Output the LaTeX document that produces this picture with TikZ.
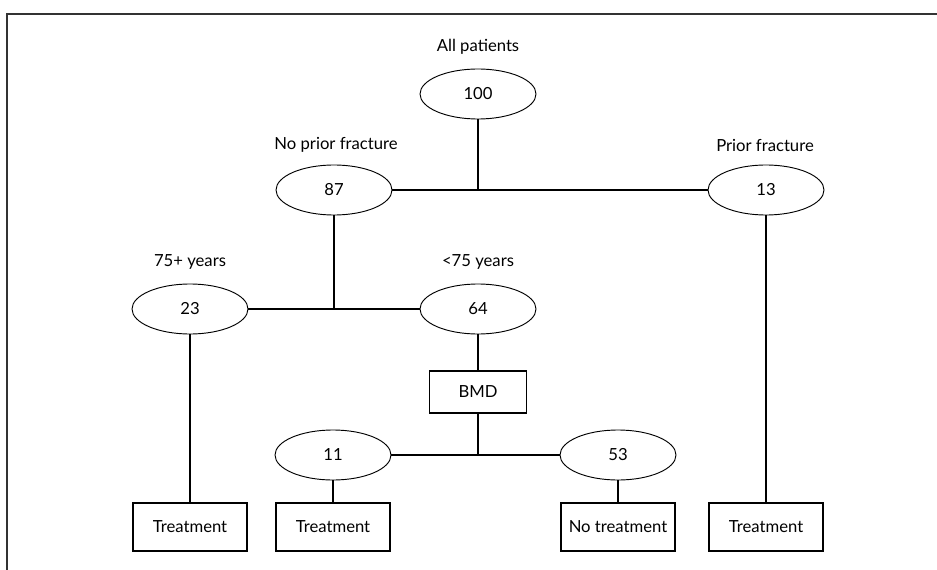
\documentclass[tikz,border=0pt]{standalone}
\usepackage{fontspec}
\setmainfont{Lato}
\usetikzlibrary{shapes.geometric}

\begin{document}
\begin{tikzpicture}[x=0.75pt,y=-0.75pt,
  every node/.style={font=\fontsize{12.5}{14}\selectfont},
  count/.style={ellipse,draw,line width=0.7pt,minimum width=87pt,
                minimum height=37.5pt,inner sep=0pt},
  decision/.style={rectangle,draw,line width=1pt,minimum width=72.75pt,
                   minimum height=31.5pt,inner sep=0pt},
  outcome/.style={rectangle,draw,line width=1pt,minimum width=85.5pt,
                  minimum height=36pt,inner sep=0pt},
  link/.style={line width=1pt},
  border/.style={line width=1.5pt,draw=black!80}]
\useasboundingbox (0,0) rectangle (937,570);
\draw[border] (937,14) -- (7,14) -- (7,570);
\node (lall) at (478,47) {All patients};
\node[count] (n100) at (478,94) {100};
\node (lnp) at (336,145) {No prior fracture};
\node[count] (n87) at (334,190) {87};
\node (lpf) at (765,145) {Prior fracture};
\node[count] (n13) at (766,190) {13};
\node (lold) at (190,262) {75+ years};
\node[count] (n23) at (190,309) {23};
\node (lyoung) at (478,262) {<75 years};
\node[count] (n64) at (478,309) {64};
\node[decision] (bmd) at (478,392) {BMD};
\node[count] (n11) at (333,455) {11};
\node[count] (n53) at (618,455) {53};
\node[outcome] (t1) at (190,527) {Treatment};
\node[outcome] (t2) at (333,527) {Treatment};
\node[outcome] (t3) at (618,527) {No treatment};
\node[outcome] (t4) at (766,527) {Treatment};
\draw[link] (n100) -- (n100 |- n87);
\draw[link] (n87) -- (n13);
\draw[link] (n87) -- (n87 |- n64);
\draw[link] (n23) -- (n64);
\draw[link] (n64) -- (bmd);
\draw[link] (bmd) -- (bmd |- n11);
\draw[link] (n11) -- (n53);
\draw[link] (n23) -- (t1);
\draw[link] (n11) -- (t2);
\draw[link] (n53) -- (t3);
\draw[link] (n13) -- (t4);
\end{tikzpicture}
\end{document}
